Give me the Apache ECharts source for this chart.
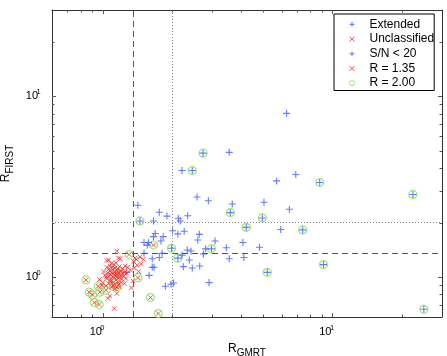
<!DOCTYPE html>
<html>
<head>
<meta charset="utf-8">
<script src="https://cdn.jsdelivr.net/npm/echarts@6/dist/echarts.min.js"></script>
<style>
html,body{margin:0;padding:0;background:#fff;}
#chart{width:447px;height:356px;}
</style>
</head>
<body>
<div id="chart"></div>
<script>
// ---- data ----
const axisMin = 0.6;
const axisMax = 30;
const majorTicks = [1, 10];
const minorTicks = [0.7, 0.8, 0.9, 2, 3, 4, 5, 6, 7, 8, 9, 20];
const dashedThreshold = 1.35;
const dottedThreshold = 2.0;

// Extended (blue +)
const extended = [
  [6.31,8.04],[3.55,4.89],[2.21,3.88],[6.92,3.69],[5.71,3.40],[2.57,2.77],[2.88,2.64],[3.66,2.53],
  [5.03,2.59],[6.49,2.37],[1.42,2.49],[1.76,2.28],[1.90,2.17],[2.13,2.11],[2.17,2.04],[2.34,2.18],
  [1.66,2.04],[5.95,1.83],[2.01,1.80],[2.26,1.79],[2.12,1.73],[2.63,1.72],[2.59,1.60],[3.08,1.58],
  [4.07,1.55],[1.69,1.74],[1.66,1.67],[1.83,1.67],[1.79,1.58],[1.51,1.55],[1.58,1.55],[1.56,1.50],
  [1.51,1.35],[1.81,1.35],[1.76,1.28],[1.64,1.26],[1.64,1.13],[1.67,1.13],[1.59,1.02],[1.27,1.06],
  [1.87,0.888],[1.98,0.911],[2.03,0.926],[2.33,1.41],[2.42,1.39],[2.21,1.32],[2.38,1.24],[2.45,1.12],
  [2.24,1.14],[2.64,1.15],[2.74,1.34],[2.80,1.43],[3.45,1.45],[3.55,1.26],[4.11,1.28],[4.81,1.46],
  [2.90,0.93]
];
// Unclassified (red x)
const unclassified = [
  [1.15,1.39],[1.04,1.23],[1.06,1.24],[1.17,1.27],[1.19,1.26],[1.36,1.22],[1.38,1.27],[1.40,1.25],
  [1.45,1.29],[1.50,1.25],[1.47,1.18],[1.43,1.07],[1.35,0.95],[1.33,0.87],[1.12,0.668],[0.966,0.967],
  [1.07,0.785],[1.05,0.76],[1.15,0.81],[1.18,0.88],[1.24,0.92],[1.22,1.04],[1.41,1.16],[1.37,1.12],
  [1.32,1.09],[1.28,1.13],
  [1.02,1.02],[1.04,0.98],[1.05,1.05],[1.06,1.01],[1.07,1.08],[1.08,0.97],[1.08,1.03],[1.09,1.06],
  [1.09,0.95],[1.10,1.00],[1.10,1.10],[1.11,1.04],[1.11,0.93],[1.12,1.07],[1.12,0.99],[1.13,1.02],
  [1.13,1.12],[1.14,0.96],[1.14,1.05],[1.15,1.00],[1.15,1.09],[1.16,1.03],[1.16,0.94],[1.17,1.06],
  [1.18,0.99],[1.18,1.14],[1.19,1.02],[1.20,1.08],[1.21,0.97],[1.22,1.11],[1.23,1.01],[1.24,1.06],
  [1.06,0.92],[1.03,0.89],[1.00,0.93],[1.01,1.07],[0.99,0.90],[1.04,1.13],[1.07,1.15],[1.12,1.17],
  [1.09,0.88],[1.13,0.86],[1.17,0.91],[1.20,0.93],[1.26,0.98],[1.25,1.15],[1.27,1.05],[1.14,1.20],
  [1.09,1.19],[1.06,1.10],[1.10,1.13],[1.16,1.11],[1.03,1.00],[1.11,0.90],[1.07,0.95]
];
// circled blue points (S/N < 20)
const lowSnBlue = [
  [2.73,4.84],[2.45,3.88],[8.80,3.33],[22.4,2.86],[3.59,2.27],[4.95,2.12],[1.45,2.04],[4.21,1.88],
  [7.42,1.82],[1.99,1.44],[2.97,1.43],[2.12,1.27],[9.14,1.17],[5.20,1.06],[25.0,0.662]
];
// circled red points
const lowSnRed = [
  [1.30,1.33],[1.66,1.50],[1.42,0.99],[1.18,1.035],[0.843,0.962],[0.871,0.823],[0.901,0.795],
  [0.917,0.721],[0.963,0.703],[0.954,0.888],[0.970,0.823],[1.03,0.844],[1.11,0.89],[1.15,0.88],
  [1.61,0.769],[1.74,0.627]
];

const legendNames = ['Extended', 'Unclassified', 'S/N < 20', 'R = 1.35', 'R = 2.00'];

// ---- styles ----
const BLUE = '#3a5cff';
const RED = '#ff2626';
const GREEN = '#86e05a';
const FONT = '"Liberation Sans", Arial, Helvetica, sans-serif';
const PLUS = 'path://M0,4L8,4M4,0L4,8';
const CROSS = 'path://M0,0L8,8M8,0L0,8';
const legendColors = [BLUE, RED, BLUE, RED, GREEN];
const legendIcons = [PLUS, CROSS, PLUS, CROSS, 'circle'];

const chart = echarts.init(document.getElementById('chart'), null, {renderer: 'canvas'});

function tickLabel(v) {
  const e = Math.round(Math.log10(v));
  if (Math.abs(Math.log10(v) - e) > 1e-6) return '';
  return '{b|10}{s|' + e + '}';
}
const labelRich = {
  b: {fontSize: 11, fontFamily: FONT, color: '#000'},
  s: {fontSize: 7.5, fontFamily: FONT, color: '#000', padding: [0, 0, 8, 0], width: 1, align: 'left'}
};

const tickData = [];
minorTicks.forEach(v => tickData.push([v, 0]));
majorTicks.forEach(v => tickData.push([v, 1]));

const option = {
  animation: false,
  backgroundColor: '#fff',
  textStyle: {fontFamily: FONT},
  grid: {left: 52, right: 5, top: 10, bottom: 39, containLabel: false, outerBoundsMode: 'none'},
  legend: {
    data: legendNames.map((n, i) => ({
      name: n,
      icon: legendIcons[i],
      itemStyle: {color: 'rgba(0,0,0,0)', borderColor: legendColors[i], borderWidth: 1}
    })),
    orient: 'vertical',
    left: 334, top: 14,
    padding: [3, 0, 0, 15],
    itemGap: 0,
    itemWidth: 25, itemHeight: 5,
    backgroundColor: '#fff',
    borderColor: '#000', borderWidth: 1,
    borderRadius: 0,
    selectedMode: false,
    textStyle: {fontSize: 12, fontFamily: FONT, color: '#000', lineHeight: 14.7}
  },
  xAxis: [{
    type: 'log', logBase: 10, min: axisMin, max: axisMax,
    name: '{r|R}{t|GMRT}', nameLocation: 'middle', nameGap: 11,
    nameTextStyle: {rich: {
      r: {fontSize: 12, fontFamily: FONT, color: '#000'},
      t: {fontSize: 10, fontFamily: FONT, color: '#000', padding: [9, 0, 0, 0]}
    }},
    axisLine: {show: true, lineStyle: {color: '#333', width: 1}},
    axisTick: {show: false},
    splitLine: {show: false},
    axisLabel: {showMinLabel: false, showMaxLabel: false, margin: 7, align: 'right',
      formatter: tickLabel, rich: labelRich}
  }, {
    type: 'log', logBase: 10, min: axisMin, max: axisMax, position: 'top',
    axisLine: {show: true, onZero: false, lineStyle: {color: '#333', width: 1}},
    axisTick: {show: false}, axisLabel: {show: false}, splitLine: {show: false}
  }],
  yAxis: [{
    type: 'log', logBase: 10, min: axisMin, max: axisMax,
    name: '{r|R}{t|FIRST}', nameLocation: 'middle', nameGap: 31,
    nameTextStyle: {rich: {
      r: {fontSize: 12, fontFamily: FONT, color: '#000'},
      t: {fontSize: 10, fontFamily: FONT, color: '#000', padding: [9, 0, 0, 0]}
    }},
    axisLine: {show: true, lineStyle: {color: '#333', width: 1}},
    axisTick: {show: false},
    splitLine: {show: false},
    axisLabel: {showMinLabel: false, showMaxLabel: false, margin: 13,
      formatter: tickLabel, rich: labelRich}
  }, {
    type: 'log', logBase: 10, min: axisMin, max: axisMax, position: 'right',
    axisLine: {show: true, onZero: false, lineStyle: {color: '#333', width: 1}},
    axisTick: {show: false}, axisLabel: {show: false}, splitLine: {show: false}
  }],
  series: [
    {
      name: 'R = 2.00', type: 'scatter', z: 2,
      data: lowSnBlue.concat(lowSnRed),
      symbol: 'circle', symbolSize: 8,
      itemStyle: {color: 'rgba(0,0,0,0)', borderColor: GREEN, borderWidth: 1.2},
      silent: true
    },
    {
      name: 'Extended', type: 'scatter', z: 3,
      data: extended,
      symbol: PLUS, symbolSize: 7,
      itemStyle: {color: 'rgba(0,0,0,0)', borderColor: BLUE, borderWidth: 1.1},
      silent: true,
      markLine: {
        silent: true, symbol: 'none', animation: false,
        label: {show: false},
        data: [
          {xAxis: dashedThreshold, lineStyle: {type: [6, 4], color: '#555', width: 1}},
          {yAxis: dashedThreshold, lineStyle: {type: [6, 4], color: '#555', width: 1}},
          {xAxis: dottedThreshold, lineStyle: {type: [1, 2], color: '#888', width: 1}},
          {yAxis: dottedThreshold, lineStyle: {type: [1, 2], color: '#888', width: 1}}
        ]
      }
    },
    {
      name: 'Unclassified', type: 'scatter', z: 3,
      data: unclassified,
      symbol: CROSS, symbolSize: 4.5,
      itemStyle: {color: 'rgba(0,0,0,0)', borderColor: RED, borderWidth: 1},
      silent: true
    },
    {
      name: 'S/N < 20', type: 'scatter', z: 3,
      data: lowSnBlue,
      symbol: PLUS, symbolSize: 7,
      itemStyle: {color: 'rgba(0,0,0,0)', borderColor: BLUE, borderWidth: 1.1},
      silent: true
    },
    {
      name: 'R = 1.35', type: 'scatter', z: 3,
      data: lowSnRed,
      symbol: CROSS, symbolSize: 4.5,
      itemStyle: {color: 'rgba(0,0,0,0)', borderColor: RED, borderWidth: 1},
      silent: true
    },
    {
      name: 'xticks', type: 'custom', silent: true, z: 5,
      data: tickData,
      encode: {x: 0},
      clip: false,
      renderItem: function (params, api) {
        const v = api.value(0), major = api.value(1);
        const p = api.coord([v, 1]);
        const cs = params.coordSys;
        const len = major ? 4 : 2.5;
        const x = Math.round(p[0]) + 0.5;
        const yb = cs.y + cs.height, yt = cs.y;
        const st = {stroke: '#555', lineWidth: 1};
        return {type: 'group', children: [
          {type: 'line', shape: {x1: x, y1: yb, x2: x, y2: yb - len}, style: st},
          {type: 'line', shape: {x1: x, y1: yt, x2: x, y2: yt + len}, style: st}
        ]};
      }
    },
    {
      name: 'yticks', type: 'custom', silent: true, z: 5,
      data: tickData.map(d => [1, d[0], d[1]]),
      clip: false,
      renderItem: function (params, api) {
        const v = api.value(1), major = api.value(2);
        const p = api.coord([1, v]);
        const cs = params.coordSys;
        const len = major ? 4 : 2.5;
        const y = Math.round(p[1]) + 0.5;
        const xl = cs.x, xr = cs.x + cs.width;
        const st = {stroke: '#555', lineWidth: 1};
        return {type: 'group', children: [
          {type: 'line', shape: {x1: xl, y1: y, x2: xl + len, y2: y}, style: st},
          {type: 'line', shape: {x1: xr, y1: y, x2: xr - len, y2: y}, style: st}
        ]};
      }
    }
  ]
};
chart.setOption(option);
</script>
</body>
</html>
